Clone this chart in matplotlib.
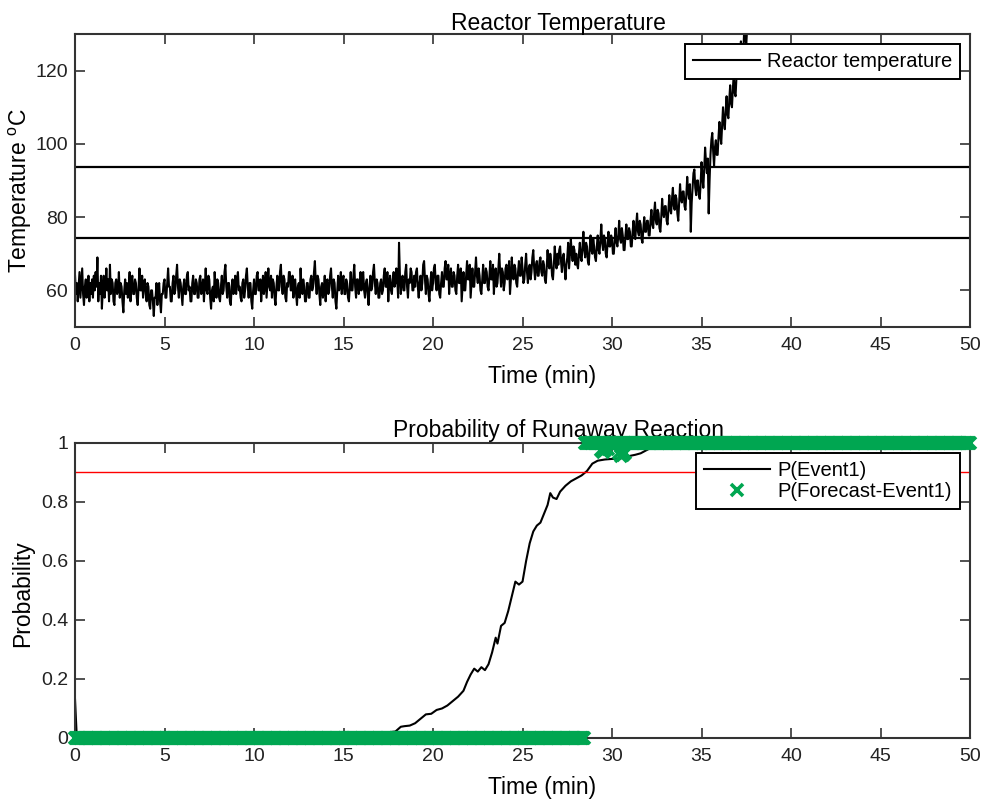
import numpy as np
import matplotlib
matplotlib.use("Agg")
import matplotlib.pyplot as plt

plt.rcParams["font.family"] = ["Liberation Sans", "DejaVu Sans"]
plt.rcParams["mathtext.fontset"] = "custom"
plt.rcParams["mathtext.rm"] = "Liberation Sans"

# Reactor temperature samples, one every 0.05 min (deg C), one row per minute
temp_dt = 0.05
temperature = [
    64, 59, 62, 57, 61, 65, 58, 62, 66, 59, 56, 61, 63, 58, 60, 64, 57, 62, 59, 63,
    58, 64, 60, 65, 61, 69, 57, 62, 59, 64, 55, 60, 64, 58, 61, 66, 60, 63, 57, 67,
    59, 63, 62, 57, 56, 62, 63, 59, 60, 65, 58, 62, 61, 57, 54, 60, 63, 59, 62, 58,
    61, 65, 57, 62, 64, 59, 59, 63, 62, 58, 56, 61, 66, 60, 60, 64, 58, 62, 63, 59,
    57, 62, 61, 56, 55, 60, 60, 57, 53, 58, 58, 62, 56, 60, 62, 57, 54, 59, 59, 62,
    63, 58, 58, 62, 66, 61, 61, 57, 57, 62, 64, 59, 60, 64, 67, 61, 58, 63, 62, 59,
    56, 61, 63, 59, 59, 64, 65, 60, 61, 57, 57, 62, 64, 59, 59, 63, 62, 58, 58, 63,
    64, 59, 60, 63, 57, 61, 66, 60, 59, 64, 63, 58, 55, 60, 61, 57, 65, 61, 58, 63,
    62, 58, 57, 61, 64, 59, 60, 65, 67, 61, 58, 62, 62, 57, 56, 61, 63, 59, 60, 64,
    59, 63, 65, 60, 61, 58, 57, 62, 63, 58, 60, 64, 66, 61, 58, 62, 62, 57, 55, 60,
    63, 59, 59, 64, 65, 60, 60, 63, 57, 61, 64, 59, 61, 65, 58, 62, 66, 61, 60, 64,
    58, 63, 62, 58, 56, 61, 64, 60, 60, 65, 67, 61, 59, 64, 63, 58, 57, 62, 61, 65,
    65, 60, 60, 64, 58, 62, 63, 59, 56, 61, 62, 58, 66, 61, 59, 63, 61, 57, 57, 62,
    62, 58, 58, 63, 64, 60, 61, 65, 68, 62, 59, 64, 63, 59, 56, 61, 62, 58, 60, 64,
    57, 62, 63, 59, 60, 64, 66, 61, 58, 63, 62, 57, 55, 60, 64, 60, 61, 65, 59, 63,
    64, 59, 59, 63, 62, 58, 57, 61, 65, 60, 60, 64, 67, 61, 58, 63, 63, 59, 61, 65,
    60, 64, 65, 60, 58, 62, 63, 59, 56, 61, 64, 60, 61, 65, 67, 62, 59, 63, 62, 58,
    58, 62, 63, 59, 60, 64, 66, 61, 61, 65, 57, 62, 64, 60, 59, 63, 65, 61, 62, 66,
    63, 58, 73, 64, 59, 63, 64, 60, 60, 65, 67, 61, 58, 63, 62, 66, 65, 60, 60, 64,
    61, 65, 66, 61, 58, 62, 64, 60, 62, 67, 68, 63, 59, 64, 63, 59, 57, 62, 65, 60,
    62, 66, 67, 62, 60, 64, 64, 59, 58, 62, 65, 61, 61, 66, 68, 63, 63, 67, 59, 64,
    66, 61, 61, 65, 64, 60, 59, 64, 67, 62, 62, 66, 57, 61, 65, 60, 60, 64, 68, 63,
    63, 67, 58, 62, 66, 61, 61, 65, 69, 64, 62, 66, 64, 60, 59, 63, 67, 62, 62, 66,
    65, 61, 60, 64, 68, 63, 63, 67, 59, 64, 66, 61, 62, 66, 70, 65, 61, 66, 65, 60,
    62, 66, 67, 63, 64, 68, 59, 63, 69, 64, 63, 67, 66, 62, 61, 65, 68, 64, 64, 69,
    66, 62, 63, 67, 70, 65, 62, 66, 67, 63, 65, 69, 71, 66, 63, 67, 68, 64, 64, 68,
    69, 65, 64, 68, 67, 63, 62, 66, 71, 67, 66, 70, 68, 64, 63, 67, 72, 68, 66, 70,
    67, 71, 72, 68, 65, 69, 70, 66, 63, 67, 69, 73, 66, 70, 74, 70, 68, 72, 71, 67,
    70, 67, 66, 70, 73, 69, 68, 72, 76, 71, 69, 73, 72, 68, 67, 71, 75, 71, 70, 74,
    72, 69, 68, 72, 75, 71, 70, 74, 78, 73, 71, 75, 74, 70, 69, 73, 76, 72, 72, 75,
    74, 70, 70, 74, 77, 73, 72, 75, 79, 74, 73, 77, 75, 71, 71, 75, 78, 74, 74, 77,
    76, 72, 72, 76, 79, 75, 74, 78, 81, 76, 75, 79, 78, 74, 73, 77, 80, 76, 76, 79,
    79, 75, 75, 79, 82, 78, 77, 81, 84, 79, 78, 82, 81, 77, 76, 80, 85, 81, 80, 83,
    83, 79, 78, 82, 86, 82, 81, 85, 88, 83, 82, 86, 85, 81, 79, 84, 89, 85, 84, 87,
    87, 83, 82, 86, 91, 87, 85, 89, 76, 84, 88, 92, 93, 88, 86, 90, 90, 86, 85, 89,
    95, 91, 88, 93, 99, 95, 92, 96, 81, 90, 97, 101, 103, 98, 94, 99, 101, 97, 97, 102,
    106, 102, 100, 105, 110, 106, 104, 109, 113, 108, 107, 112, 116, 111, 110, 115, 119, 114, 113, 118,
    124, 120, 118, 123, 128, 124, 122, 127, 133, 129, 127, 132, 138,
]
temp_limits = [74.4, 93.7]

# Probability of runaway event
prob_time = [0.0, 0.1, 17.0, 17.3, 17.6, 17.9, 18.2, 18.4, 18.7, 19.0, 19.3,
             19.6, 19.9, 20.2, 20.5, 20.8, 21.1, 21.4, 21.7, 21.9, 22.1,
             22.3, 22.5, 22.7, 22.9, 23.1, 23.3, 23.5, 23.6, 23.8, 24.0,
             24.2, 24.4, 24.6, 24.8, 25.0, 25.2, 25.4, 25.6, 25.8, 26.0,
             26.2, 26.4, 26.55, 26.7, 26.9, 27.1, 27.4, 27.7, 28.0, 28.3,
             28.6, 28.9, 29.2, 29.6, 30.0, 30.5, 30.9, 31.3, 31.6, 32.0,
             32.4, 32.8, 50.0]
prob_event = [0.13, 0.0, 0.0, 0.012, 0.02, 0.022, 0.038, 0.04, 0.042, 0.05, 0.065,
              0.08, 0.082, 0.095, 0.10, 0.11, 0.125, 0.14, 0.16, 0.19, 0.215,
              0.235, 0.225, 0.24, 0.23, 0.25, 0.29, 0.34, 0.32, 0.38, 0.39,
              0.43, 0.48, 0.53, 0.52, 0.53, 0.60, 0.66, 0.70, 0.72, 0.73,
              0.76, 0.79, 0.83, 0.815, 0.81, 0.835, 0.855, 0.87, 0.88, 0.89,
              0.905, 0.93, 0.94, 0.944, 0.946, 0.948, 0.955, 0.96, 0.965, 0.978,
              0.99, 1.0, 1.0]
prob_threshold = 0.9

# Forecast probability: plateaus (start, end, value) plus a few off-plateau points
forecast_dt = 0.05
forecast_plateaus = [(0.0, 28.45, 0.0), (28.5, 50.0, 1.0)]
forecast_dip_time = [29.4, 29.5, 29.6, 29.8, 30.4, 30.5, 30.6, 30.7]
forecast_dip_value = [0.975, 0.97, 0.975, 0.98, 0.965, 0.955, 0.96, 0.965]

green = "#00a651"
frame = "#333333"
label_fs = 16.5
tick_fs = 14
legend_fs = 14.5

fig = plt.figure(figsize=(9.86, 8.06), dpi=100)
ax1 = fig.add_axes([0.0761, 0.5943, 0.9077, 0.3635])
ax2 = fig.add_axes([0.0761, 0.0844, 0.9077, 0.3660])

t_temp = np.arange(len(temperature)) * temp_dt
ax1.plot(t_temp, temperature, color="black", lw=1.5, label="Reactor temperature")
for lim in temp_limits:
    ax1.axhline(lim, color="black", lw=1.6)
ax1.set_xlim(0, 50)
ax1.set_ylim(50, 130)
ax1.set_yticks([60, 80, 100, 120])
ax1.set_title("Reactor Temperature", fontsize=label_fs, pad=3, x=0.54)
ax1.set_xlabel("Time (min)", fontsize=label_fs, labelpad=8, x=0.522)
ax1.set_ylabel("Temperature $^{\\mathregular{o}}$C", fontsize=label_fs)
ax1.yaxis.set_label_coords(-0.046, 0.464)

ax2.plot(prob_time, prob_event, color="black", lw=1.5, label="P(Event1)")
ax2.axhline(prob_threshold, color="red", lw=1.0)
fc_t, fc_v = [], []
for start, end, value in forecast_plateaus:
    ts = np.arange(start, end + 1e-9, forecast_dt)
    fc_t.extend(ts)
    fc_v.extend([value] * len(ts))
fc_t.extend(forecast_dip_time)
fc_v.extend(forecast_dip_value)
ax2.plot(fc_t, fc_v, linestyle="none", marker="x", color=green, ms=8, mew=2.6,
         clip_on=False, label="P(Forecast-Event1)", zorder=5)
ax2.set_xlim(0, 50)
ax2.set_ylim(0, 1)
ax2.set_yticks([0, 0.2, 0.4, 0.6, 0.8, 1])
ax2.set_yticklabels(["0", "0.2", "0.4", "0.6", "0.8", "1"])
ax2.set_title("Probability of Runaway Reaction", fontsize=label_fs, pad=4, x=0.54)
ax2.set_xlabel("Time (min)", fontsize=label_fs, labelpad=8, x=0.522)
ax2.set_ylabel("Probability", fontsize=label_fs)
ax2.yaxis.set_label_coords(-0.046, 0.49)

for ax in (ax1, ax2):
    leg = ax.legend(loc="upper right", fontsize=legend_fs, frameon=True, fancybox=False,
                    borderpad=0.4, labelspacing=0.1, handlelength=3.3,
                    handletextpad=0.35, borderaxespad=0.5, framealpha=1)
    leg.get_frame().set_edgecolor("black")
    leg.get_frame().set_linewidth(1.4)
    ax.set_xticks(range(0, 51, 5))
    ax.tick_params(direction="in", length=7, width=1.2, top=True, right=True,
                   labelsize=tick_fs, colors=frame, labelcolor="#222222")
    ax.tick_params(axis="x", pad=7)
    ax.tick_params(axis="y", pad=5)
    for s in ax.spines.values():
        s.set_linewidth(1.5)
        s.set_color(frame)

fig.savefig("out.png", dpi=100)
